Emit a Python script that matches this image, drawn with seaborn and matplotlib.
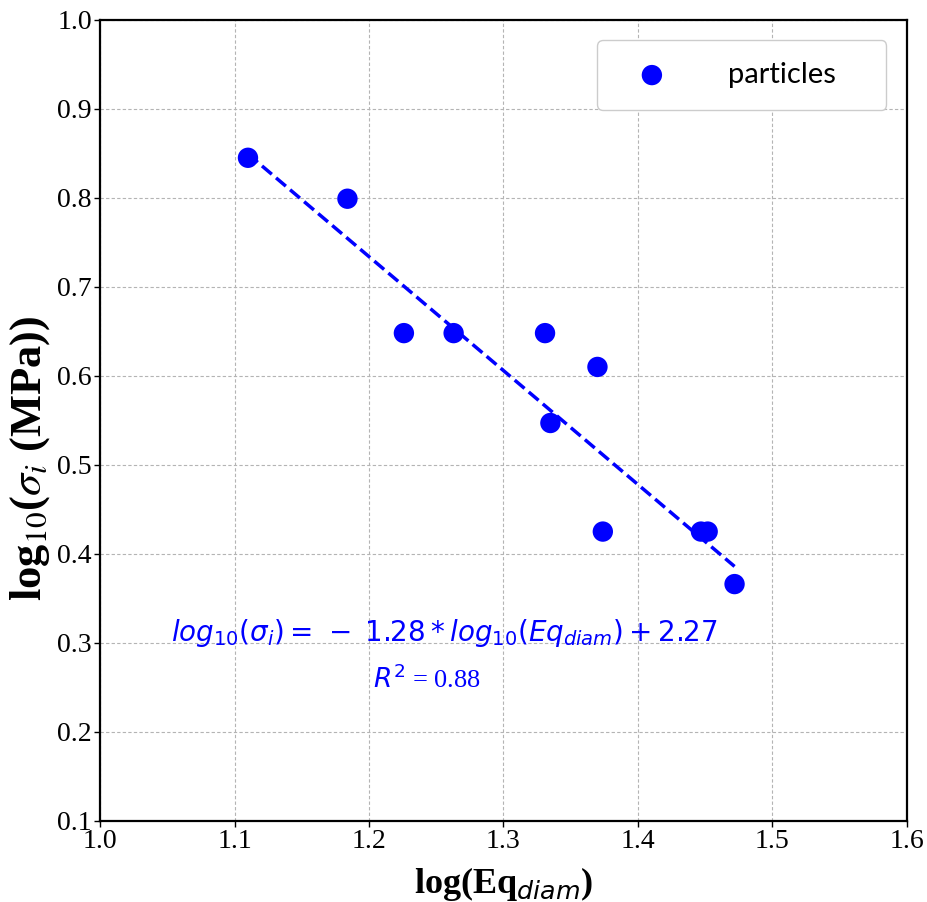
import numpy as np
import pandas as pd
import matplotlib
matplotlib.use("Agg")
import matplotlib.pyplot as plt
import seaborn as sns

# data
eq_diam_log = [1.110, 1.184, 1.226, 1.263, 1.331, 1.370, 1.335, 1.374, 1.447, 1.452, 1.472]
sigma_log = [0.845, 0.799, 0.648, 0.648, 0.648, 0.610, 0.547, 0.425, 0.425, 0.425, 0.366]
slope = -1.28
intercept = 2.27
r2 = 0.88
x_ticks = [1.0, 1.1, 1.2, 1.3, 1.4, 1.5, 1.6]
y_ticks = [0.1, 0.2, 0.3, 0.4, 0.5, 0.6, 0.7, 0.8, 0.9, 1.0]

sns.set_theme(style="white")
plt.rcParams["font.family"] = ["Liberation Serif", "DejaVu Sans"]
plt.rcParams["mathtext.fontset"] = "dejavusans"
plt.rcParams["text.color"] = "black"
plt.rcParams["axes.labelcolor"] = "black"

df = pd.DataFrame({"x": eq_diam_log, "y": sigma_log})
x_fit = np.array([min(eq_diam_log), max(eq_diam_log)])
fit = pd.DataFrame({"x": x_fit, "y": slope * x_fit + intercept})

fig, ax = plt.subplots(figsize=(9.27, 9.02), dpi=100)
fig.subplots_adjust(left=0.108, right=0.978, bottom=0.09, top=0.978)

sns.lineplot(data=fit, x="x", y="y", ax=ax, color="blue", linestyle="--",
             linewidth=2.5, zorder=2)
sns.scatterplot(data=df, x="x", y="y", ax=ax, color="blue", s=215,
                edgecolor="none", label="particles", zorder=3)

ax.set_xlim(1.0, 1.6)
ax.set_ylim(0.1, 1.0)
ax.set_xticks(x_ticks)
ax.set_yticks(y_ticks)
ax.set_xticklabels([f"{v:.1f}" for v in x_ticks])
ax.set_yticklabels([f"{v:.1f}" for v in y_ticks])
ax.tick_params(axis="both", labelsize=20, direction="out", length=4, width=1,
               colors="black", pad=2, bottom=True, left=True)
ax.grid(True, color="#b4b4b4", linestyle=(0, (3, 2)), linewidth=0.8)
for sp in ax.spines.values():
    sp.set_color("black")
    sp.set_linewidth(1.6)

ax.set_xlabel(r"log(Eq$_{diam}$)", fontsize=26, fontweight="bold", labelpad=8,
              color="black")
ax.set_ylabel(r"log$_{10}$($\sigma_i$ (MPa))", fontsize=32, fontweight="bold",
              math_fontfamily="stix", color="black")
ax.yaxis.set_label_coords(-0.060, 0.453)

ax.text(1.256, 0.311,
        r"$log_{10}(\sigma_i) =\,-\;1.28 * log_{10}(Eq_{diam}) + 2.27$",
        color="blue", fontsize=20, ha="center", va="center")
ax.text(1.243, 0.260, r"$R^2$ = 0.88", color="blue", fontsize=19,
        ha="center", va="center")

leg = ax.legend(loc="upper left", bbox_to_anchor=(0.616, 0.975, 0.359, 0.0),
                mode="expand", borderaxespad=0, frameon=True, fancybox=True,
                prop={"family": "Lato", "size": 21}, borderpad=0.75,
                handlelength=2.27, handletextpad=1.48)
leg.get_frame().set_edgecolor("#cccccc")
leg.get_frame().set_linewidth(1.0)
leg.get_frame().set_facecolor("white")
leg.get_frame().set_alpha(1.0)
for t in leg.get_texts():
    t.set_color("black")

fig.savefig("out.png", dpi=100)
